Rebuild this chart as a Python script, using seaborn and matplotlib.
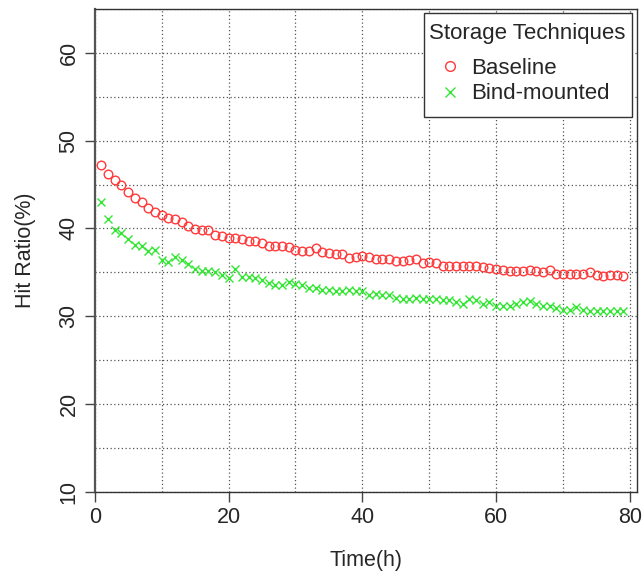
import matplotlib
matplotlib.use("Agg")
import matplotlib.pyplot as plt
from matplotlib.lines import Line2D
from matplotlib.patches import Rectangle
import seaborn as sns
import pandas as pd

hours = list(range(1, 80))
baseline = [47.25, 46.2, 45.5, 44.97, 44.1, 43.5, 42.97, 42.36, 41.86, 41.5,
            41.15, 41.07, 40.7, 40.27, 39.97, 39.86, 39.86, 39.2, 39.1, 38.95,
            38.9, 38.8, 38.56, 38.56, 38.3, 38.04, 38.04, 37.96, 37.88,
            37.58, 37.43, 37.43, 37.8, 37.3, 37.24, 37.13, 37.13, 36.67, 36.74,
            36.8, 36.74, 36.55, 36.55, 36.48, 36.29, 36.25, 36.44, 36.55, 36.06,
            36.17, 36.06, 35.72, 35.72, 35.72, 35.75, 35.75, 35.75,
            35.6, 35.53, 35.4, 35.3, 35.2, 35.2, 35.15, 35.3, 35.2, 35.0,
            35.3, 34.85, 34.85, 34.85, 34.85, 34.85, 35.0, 34.66, 34.55, 34.66,
            34.66, 34.55]
bind_mounted = [43.0, 41.1, 39.86, 39.5, 38.8, 38.15, 38.04, 37.4, 37.5, 36.45,
                36.2, 36.7, 36.4, 35.9, 35.4, 35.2, 35.2, 35.0, 34.7, 34.4,
                35.4, 34.5, 34.5, 34.4, 34.1, 33.8, 33.6, 33.5, 33.9,
                33.7, 33.5, 33.26, 33.26, 33.03, 33.03, 32.87, 32.87, 32.95, 32.87,
                32.87, 32.38, 32.5, 32.38, 32.38, 32.12, 32.0, 32.0, 32.12, 32.0,
                31.9, 31.9, 31.8, 31.8, 31.6, 31.36, 32.0, 31.8,
                31.44, 31.6, 31.13, 31.13, 31.13, 31.36, 31.6, 31.73, 31.44, 31.13,
                31.13, 30.98, 30.75, 30.68, 31.0, 30.75, 30.6, 30.6, 30.6, 30.6,
                30.6, 30.6]
series_names = ["Baseline", "Bind-mounted"]
x_ticks = [0, 20, 40, 60, 80]
y_ticks = [10, 20, 30, 40, 50, 60]

RED = "#FF3A3A"
GREEN = "#33E633"

sns.set_style("white")
plt.rcParams["font.family"] = ["Liberation Sans", "DejaVu Sans"]

W, H = 643, 574
fig = plt.figure(figsize=(6.43, 5.74), dpi=100)
ax = fig.add_axes([94.7 / W, 1 - 491.7 / H, (636.7 - 94.7) / W, (491.7 - 9) / H])

df_b = pd.DataFrame({"x": hours, "y": baseline})
df_m = pd.DataFrame({"x": hours, "y": bind_mounted})

sns.lineplot(data=df_b, x="x", y="y", ax=ax, linestyle="none", marker="o",
             markersize=6.2, markerfacecolor="none", markeredgecolor=RED,
             markeredgewidth=1.0, color=RED, zorder=3)
sns.lineplot(data=df_m, x="x", y="y", ax=ax, linestyle="none", marker="x",
             markersize=6.2, markeredgecolor=GREEN, markeredgewidth=1.0,
             color=GREEN, zorder=3)

ax.set_xlim(0, 81)
ax.set_ylim(10, 65)

# dotted grid
for gx in range(0, 81, 10):
    ax.axvline(gx, color="#555555", linestyle=(0, (1, 2)), linewidth=0.9, zorder=1)
for gy in range(10, 66, 5):
    ax.axhline(gy, color="#555555", linestyle=(0, (1, 2)), linewidth=0.9, zorder=1)

ax.set_xticks(x_ticks)
ax.set_yticks(y_ticks)
ax.set_xticklabels([str(v) for v in x_ticks], fontsize=15.5)
ax.set_yticklabels([str(v) for v in y_ticks], fontsize=15.5, rotation=90, va="center")
ax.tick_params(axis="both", which="both", direction="out", length=7, width=1.0,
               color="#444444", pad=4, bottom=True, left=True)

for side in ["top", "right", "bottom", "left"]:
    ax.spines[side].set_visible(True)
    ax.spines[side].set_color("#333333")
    ax.spines[side].set_linewidth(1.0)
ax.spines["left"].set_linewidth(1.6)
ax.spines["left"].set_color("#555555")

ax.set_xlabel("Time(h)", fontsize=15.5, labelpad=16)
ax.set_ylabel("Hit Ratio(%)", fontsize=15.5, labelpad=16)

# legend frame (drawn separately to match its padding)
frame = Rectangle((424 / W, 1 - 117 / H), 208 / W, 104 / H, transform=fig.transFigure,
                  facecolor="white", edgecolor="#333333", linewidth=1.0,
                  zorder=4, clip_on=False)
ax.add_patch(frame)

handles = [
    Line2D([], [], linestyle="none", marker="o", markersize=7, markerfacecolor="none",
           markeredgecolor=RED, markeredgewidth=1.0),
    Line2D([], [], linestyle="none", marker="x", markersize=7,
           markeredgecolor=GREEN, markeredgewidth=1.0),
]
leg = ax.legend(handles, series_names, title="Storage Techniques",
                loc="upper right", bbox_to_anchor=(632 / W, 1 - 16 / H),
                bbox_transform=fig.transFigure, fontsize=16, title_fontsize=16,
                frameon=False, borderpad=0.3, handlelength=0.5, handletextpad=0.69,
                labelspacing=0.22, borderaxespad=0)
leg._legend_box.sep = 10
leg.set_zorder(5)

fig.savefig("out.png", dpi=100)
